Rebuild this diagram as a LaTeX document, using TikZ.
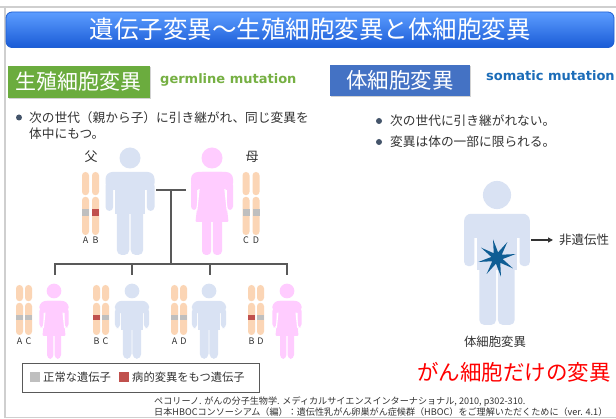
\documentclass[tikz,border=0pt]{standalone}
\usepackage{fontspec}
\setmainfont{Noto Sans CJK JP}
\newfontfamily\engfont{DejaVu Sans}
\usetikzlibrary{shadows,arrows.meta,shapes.geometric}

\definecolor{framegray}{HTML}{CFCFCF}
\definecolor{titletop}{HTML}{5C9DFF}
\definecolor{titlebot}{HTML}{1A5BD6}
\definecolor{titleline}{HTML}{1F5FD2}
\definecolor{germgreen}{HTML}{6BAC3E}
\definecolor{germtext}{HTML}{76B043}
\definecolor{somablue}{HTML}{4472C4}
\definecolor{somatext}{HTML}{1B6CB8}
\definecolor{txt}{HTML}{333333}
\definecolor{bulletc}{HTML}{44546A}
\definecolor{figblue}{HTML}{D9E2F3}
\definecolor{figpink}{HTML}{FFCCFF}
\definecolor{chromoc}{HTML}{FBD5B5}
\definecolor{normgene}{HTML}{BFBFBF}
\definecolor{mutgene}{HTML}{C0504D}
\definecolor{treeline}{HTML}{595959}
\definecolor{burstc}{HTML}{0E5D94}
\definecolor{alertred}{HTML}{FF0000}

\newcommand\setfs[1]{\fontsize{#1}{#1}\selectfont}

% one chromatid: x, top, centromere, bottom, band top, band bottom, band colour
\newcommand\chromatid[7]{%
  \fill[chromoc, rounded corners=3.4] (#1-3.5,#2) rectangle (#1+3.5,#3-0.8);
  \fill[chromoc, rounded corners=3.4] (#1-3.5,#3+0.8) rectangle (#1+3.5,#4);
  \fill[#7] (#1-3.5,#5) rectangle (#1+3.5,#6);
}

\tikzset{
  male/.pic={
    \fill (0,0) circle[radius=10.5];
    \fill[rounded corners=7] (-24.5,32) -- (-24.5,14) -- (24.5,14) -- (24.5,32) -- cycle;
    \fill[rounded corners=4] (-24.5,24) rectangle (-16.8,53);
    \fill[rounded corners=4] (16.8,24) rectangle (24.5,53);
    \fill (-15.2,20) rectangle (15.2,56);
    \fill[rounded corners=5] (-13.2,48) rectangle (-0.7,97);
    \fill[rounded corners=5] (0.7,48) rectangle (13.2,97);
  },
  female/.pic={
    \fill (0,0) circle[radius=10.5];
    \fill[rounded corners=7] (-21,32) -- (-21,14) -- (21,14) -- (21,32) -- cycle;
    \fill[rounded corners=3.5] (-21,24) rectangle (-15,52);
    \fill[rounded corners=3.5] (15,24) rectangle (21,52);
    \fill[rounded corners=1] (-11,14) -- (11,14) -- (16.5,64) -- (-16.5,64) -- cycle;
    \draw[white, line width=1.1] (-12.9,31) -- (-15.2,52.5);
    \draw[white, line width=1.1] (12.9,31) -- (15.2,52.5);
    \fill[rounded corners=4] (-10,58) rectangle (-0.8,97);
    \fill[rounded corners=4] (0.8,58) rectangle (10,97);
  },
  tree/.style={draw=treeline, line width=1.3},
  bodytext/.style={anchor=west, inner sep=0, text=txt, font=\setfs{12.7}},
  letter/.style={inner sep=0, text=txt, font=\setfs{9}},
  bulletdot/.style={fill=bulletc, draw=none},
}

\begin{document}
\begin{tikzpicture}[x=1pt,y=-1pt]
\useasboundingbox (0,0) rectangle (616,419);
\fill[white] (0,0) rectangle (616,419);

% slide frame
\draw[framegray, line width=1.2] (0,7) -- (620,7);
\draw[framegray, line width=1.2] (5,7) -- (5,417.5) -- (620,417.5);

% title bar
\shade[top color=titletop, bottom color=titlebot, draw=titleline, line width=0.8, rounded corners=6]
  (6,12) rectangle (614,47.5);
\node[text=white, font=\setfs{24.5}, inner sep=0] (title) at (310,29.5) {遺伝子変異～生殖細胞変異と体細胞変異};

% section headings
\node[fill=germgreen, minimum width=142pt, minimum height=32pt, inner sep=0,
      text=white, font=\setfs{21},
      drop shadow={shadow xshift=1.2pt, shadow yshift=-1.5pt, opacity=0.35}] (germbox) at (79,82) {生殖細胞変異};
\node[anchor=west, inner sep=0, text=germtext, font=\engfont\bfseries\setfs{13}] (germlabel) at (160,80) {germline mutation};
\node[fill=somablue, minimum width=140pt, minimum height=31pt, inner sep=0,
      text=white, font=\setfs{21.5},
      drop shadow={shadow xshift=1.2pt, shadow yshift=-1.5pt, opacity=0.35}] (somabox) at (400,80.5) {体細胞変異};
\node[anchor=west, inner sep=0, text=somatext, font=\engfont\bfseries\setfs{13}] (somalabel) at (486,76) {somatic mutation};

% bullet points
\fill[bulletdot] (19,117.5) circle[radius=3];
\node[bodytext] (gb1) at (29,117.5) {次の世代（親から子）に引き継がれ、同じ変異を};
\node[bodytext] (gb2) at (29,134) {体中にもつ。};
\fill[bulletdot] (379,121) circle[radius=3];
\node[bodytext] (sb1) at (390,121) {次の世代に引き継がれない。};
\fill[bulletdot] (379,142) circle[radius=3];
\node[bodytext] (sb2) at (390,142) {変異は体の一部に限られる。};

% parents
\node[inner sep=0, text=txt, font=\setfs{13}] (fatherlbl) at (91,157) {父};
\node[inner sep=0, text=txt, font=\setfs{13}] (motherlbl) at (252,157) {母};
\pic[fill=figblue] (father) at (130,158) {male};
\pic[fill=figpink] (mother) at (212,158) {female};

\chromatid{85.5}{172}{196}{235}{209}{216}{normgene}
\chromatid{95.5}{172}{196}{235}{209}{216}{mutgene}
\node[letter] (la) at (85.5,240.5) {A};
\node[letter] (lb) at (95.5,240.5) {B};
\chromatid{246}{172}{196}{235}{209}{216}{normgene}
\chromatid{256}{172}{196}{235}{209}{216}{normgene}
\node[letter] (lc) at (246,240.5) {C};
\node[letter] (ld) at (256,240.5) {D};

% family tree connectors
\coordinate (fh) at (156,190);
\coordinate (mh) at (186,190);
\coordinate (mid) at (171,190);
\coordinate (hub) at (171,264);
\coordinate (c1) at (55,275);
\coordinate (c2) at (132,275);
\coordinate (c3) at (210,275);
\coordinate (c4) at (287,275);
\draw[tree] (fh) -- (mh);
\draw[tree] (mid) -- (hub);
\draw[tree] (c1) -- (c1|-hub) -- (c4|-hub) -- (c4);
\draw[tree] (c2) -- (c2|-hub);
\draw[tree] (c3) -- (c3|-hub);

% children
\pic[fill=figpink, scale=0.7] (child1) at (54,291) {female};
\pic[fill=figblue, scale=0.7] (child2) at (132,291) {male};
\pic[fill=figblue, scale=0.7] (child3) at (209,291) {male};
\pic[fill=figpink, scale=0.7] (child4) at (287,291) {female};

\chromatid{19.5}{285}{302}{335}{315}{320}{normgene}
\chromatid{28.5}{285}{302}{335}{315}{320}{normgene}
\node[letter] (c1a) at (19.5,341) {A};
\node[letter] (c1b) at (28.5,341) {C};
\chromatid{96.5}{285}{302}{335}{315}{320}{mutgene}
\chromatid{105.5}{285}{302}{335}{315}{320}{normgene}
\node[letter] (c2a) at (96.5,341) {B};
\node[letter] (c2b) at (105.5,341) {C};
\chromatid{174.5}{285}{302}{335}{315}{320}{normgene}
\chromatid{183.5}{285}{302}{335}{315}{320}{normgene}
\node[letter] (c3a) at (174.5,341) {A};
\node[letter] (c3b) at (183.5,341) {D};
\chromatid{251.5}{285}{302}{335}{315}{320}{mutgene}
\chromatid{260.5}{285}{302}{335}{315}{320}{normgene}
\node[letter] (c4a) at (251.5,341) {B};
\node[letter] (c4b) at (260.5,341) {D};

% legend
\node[draw=treeline, line width=0.9, minimum width=237pt, minimum height=29pt, inner sep=0] (legend) at (140.5,377.5) {};
\fill[normgene] (30,372) rectangle (40,382);
\node[anchor=west, inner sep=0, text=txt, font=\setfs{11.3}] (legnorm) at (43,377.5) {正常な遺伝子};
\fill[mutgene] (119,372) rectangle (129,382);
\node[anchor=west, inner sep=0, text=txt, font=\setfs{11.3}] (legmut) at (132,377.5) {病的変異をもつ遺伝子};

% somatic mutation figure
\pic[fill=figblue, scale=1.34] (patient) at (497,195) {male};
\node[star, star points=8, star point ratio=3.3, minimum size=38pt, inner sep=0,
      fill=burstc, rotate=12] (burst) at (497,258) {};
\coordinate (arrowfrom) at (531,240);
\node[anchor=west, inner sep=0, text=txt, font=\setfs{12.5}] (nonhered) at (559,240) {非遺伝性};
\draw[draw=txt, line width=1.5, shorten >=6pt, -{Triangle[length=5pt,width=5pt]}] (arrowfrom) -- (nonhered.west);
\node[inner sep=0, text=txt, font=\setfs{12.4}] (somacap) at (495,342) {体細胞変異};
\node[anchor=east, inner sep=0, text=alertred, font=\setfs{21.5}] (cancer) at (611,372) {がん細胞だけの変異};

% references
\node[anchor=west, inner sep=0, text=txt, font=\setfs{9.1}] (ref1) at (154,402)
  {ペコリーノ. がんの分子生物学. メディカルサイエンスインターナショナル, 2010, p302-310.};
\node[anchor=west, inner sep=0, text=txt, font=\setfs{9.1}] (ref2) at (154,412.5)
  {日本HBOCコンソーシアム（編）：遺伝性乳がん卵巣がん症候群（HBOC）をご理解いただくために（ver. 4.1）};
\end{tikzpicture}
\end{document}
